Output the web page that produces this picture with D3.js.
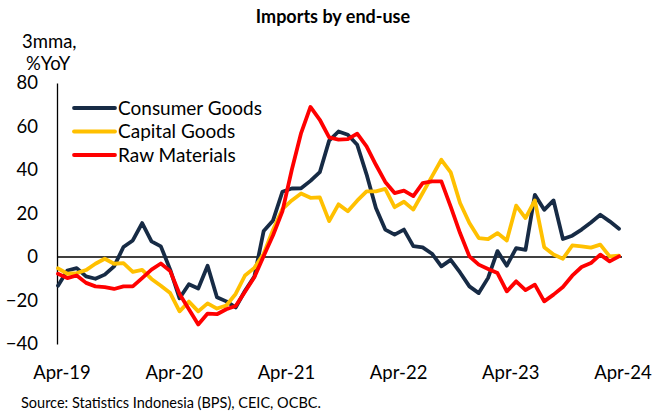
<!DOCTYPE html>
<html>
<head>
<meta charset="utf-8">
<script src="https://cdn.jsdelivr.net/npm/d3@7"></script>
<style>
  html, body { margin: 0; padding: 0; background: #fff; }
  svg { display: block; }
  text { font-family: Lato, "Open Sans", sans-serif; fill: #000; }
</style>
</head>
<body>
<svg id="chart" width="660" height="415"></svg>
<script>
// ---- data (monthly, Apr-19 .. Apr-24, 3mma %YoY) ----
const startMonth = "2019-04";
const xTickLabels = ["Apr-19", "Apr-20", "Apr-21", "Apr-22", "Apr-23", "Apr-24"];
const yTicks = [-40, -20, 0, 20, 40, 60, 80];
const seriesNames = ["Consumer Goods", "Capital Goods", "Raw Materials"];
const seriesColors = ["#172b45", "#ffc000", "#ff0000"];

const consumerGoods = [
  -13.2, -6.2, -5.1, -8.9, -10, -8.1, -4.3, 4.6, 7.6, 15.6, 7.2, 4.9,
  -5.8, -19, -12.5, -14.5, -4, -18.5, -20.4, -23.2, -15.5, -9, 12, 16.8,
  30, 31.5, 31.6, 35, 39, 53.5, 57.7, 56.2, 51.6, 38, 22.5, 12.6,
  10.3, 12.6, 5, 4.4, 1.5, -4.3, -1.3, -7.1, -13.5, -16.6, -9.6, 2.7,
  -4, 4.1, 3.3, 28.6, 21.7, 26, 8.3, 9.8, 12.6, 15.9, 19.4, 16.4,
  13
];
const capitalGoods = [
  -5.2, -7.7, -7.4, -6, -3.1, -0.8, -3.1, -2.8, -6.8, -5.9, -10.1, -13.2,
  -16.6, -25, -20.5, -25, -21.3, -23.7, -22.3, -17, -8.5, -5, 1.5, 12.5,
  22, 26, 29.2, 27.2, 27.4, 16.5, 24.2, 21, 25.9, 30.2, 30.2, 31.3,
  22.9, 25.4, 21.8, 29.4, 37.1, 44.7, 38.9, 24.8, 15.6, 8.7, 8.2, 11,
  7.6, 23.6, 17.9, 26, 4.5, 1.1, -0.8, 5.3, 4.9, 4.3, 5.7, 0.3,
  0.6
];
const rawMaterials = [
  -7.7, -9.7, -8.5, -11.9, -13.5, -13.9, -14.7, -13.5, -13.5, -9.7, -5.8, -3,
  -6.5, -17, -24, -31, -26, -26.3, -24, -22.5, -16, -9.3, 0.5, 10,
  21, 40, 57, 69, 63.1, 55, 54, 54.2, 56.7, 50.9, 42.4, 34.5,
  29.4, 30.5, 28, 34, 34.8, 34.8, 23.2, 11, 0.3, -3.5, -5.5, -7.4,
  -15.8, -11.2, -15.2, -12.7, -20.4, -17.3, -13.8, -8.6, -4.6, -2.8, 1.1, -2,
  0.3
];
const seriesValues = [consumerGoods, capitalGoods, rawMaterials];

// ---- layout ----
const svg = d3.select("#chart");
const plot = { left: 57, right: 622, top: 83, bottom: 344 };
const xFirst = 58, xLast = 619;

const x = d3.scaleLinear().domain([0, consumerGoods.length - 1]).range([xFirst, xLast]);
const y = d3.scaleLinear().domain([-40, 80]).range([plot.bottom, plot.top]);

// title
svg.append("text")
  .attr("x", 333).attr("y", 23)
  .attr("text-anchor", "middle")
  .style("font-weight", "bold").style("font-size", "18px")
  .text("Imports by end-use");

// y-axis unit label
svg.append("text").attr("x", 22).attr("y", 48).style("font-size", "18.5px").text("3mma,");
svg.append("text").attr("x", 26).attr("y", 70).style("font-size", "18.5px").text("%YoY");

// y axis
const yAxis = d3.axisLeft(y).tickValues(yTicks).tickSize(0).tickSizeOuter(0).tickPadding(19)
  .tickFormat(d3.format("d"));
const gy = svg.append("g").attr("transform", `translate(${plot.left},0)`).call(yAxis);
gy.select(".domain").attr("stroke", "#000").attr("stroke-width", 1.3);
gy.selectAll("text").style("font-size", "18.5px").style("font-family", "Lato, sans-serif").attr("fill", "#000");

// zero line (horizontal axis)
svg.append("line")
  .attr("x1", plot.left).attr("x2", plot.right)
  .attr("y1", y(0)).attr("y2", y(0))
  .attr("stroke", "#000").attr("stroke-width", 1.3);

// x axis labels (low position)
const xTickIdx = xTickLabels.map((_, k) => k * 12);
const xAxis = d3.axisBottom(x).tickValues(xTickIdx).tickSize(0).tickSizeOuter(0)
  .tickPadding(0).tickFormat((d, k) => xTickLabels[k]);
const gx = svg.append("g").attr("transform", `translate(3.5,${plot.bottom + 22})`).call(xAxis);
gx.select(".domain").remove();
gx.selectAll("text").style("font-size", "18.5px").style("font-family", "Lato, sans-serif").attr("fill", "#000");

// lines
const line = d3.line().x((d, i) => x(i)).y(d => y(d)).curve(d3.curveLinear);
seriesValues.forEach((vals, s) => {
  svg.append("path")
    .datum(vals)
    .attr("d", line)
    .attr("fill", "none")
    .attr("stroke", seriesColors[s])
    .attr("stroke-width", 3.8)
    .attr("stroke-linejoin", "round")
    .attr("stroke-linecap", "round");
});

// legend
const legend = svg.append("g");
seriesNames.forEach((name, s) => {
  const ly = 108 + s * 23.5;
  legend.append("line")
    .attr("x1", 74).attr("x2", 115).attr("y1", ly).attr("y2", ly)
    .attr("stroke", seriesColors[s]).attr("stroke-width", 3.8).attr("stroke-linecap", "round");
  legend.append("text")
    .attr("x", 118).attr("y", ly + 6.5)
    .style("font-size", "19px")
    .text(name);
});

// source
svg.append("text").attr("x", 21).attr("y", 408).style("font-size", "14.5px")
  .text("Source: Statistics Indonesia (BPS), CEIC, OCBC.");
</script>
</body>
</html>
